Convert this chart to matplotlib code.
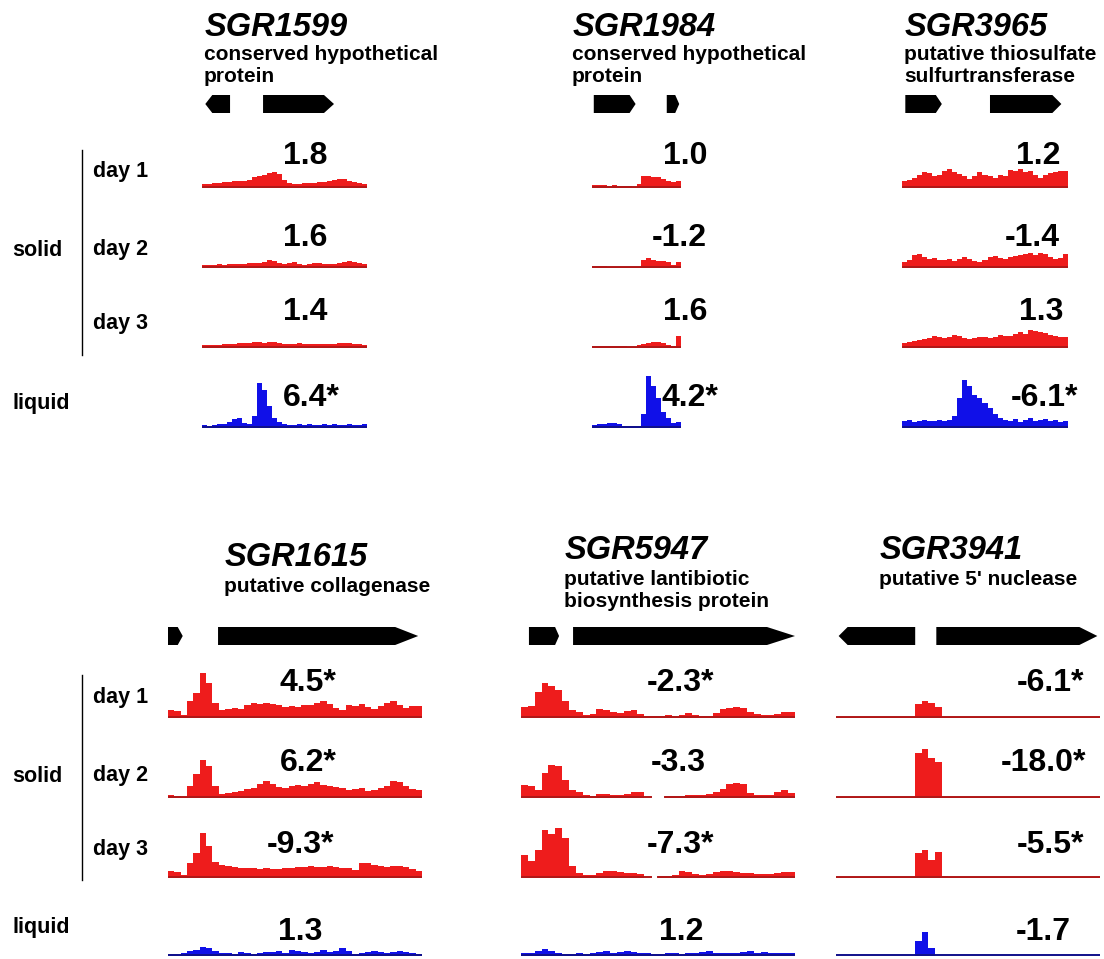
import numpy as np
import matplotlib.pyplot as plt
from matplotlib.patches import Polygon

W, H = 1104, 959

# gene names and annotations
genes = ["SGR1599", "SGR1984", "SGR3965", "SGR1615", "SGR5947", "SGR3941"]
descriptions = [
    ["conserved hypothetical", "protein"],
    ["conserved hypothetical", "protein"],
    ["putative thiosulfate", "sulfurtransferase"],
    ["putative collagenase"],
    ["putative lantibiotic", "biosynthesis protein"],
    ["putative 5' nuclease"],
]

# fold changes: day 1, day 2, day 3, liquid
fold_changes = [
    ["1.8", "1.6", "1.4", "6.4*"],
    ["1.0", "-1.2", "1.6", "4.2*"],
    ["1.2", "-1.4", "1.3", "-6.1*"],
    ["4.5*", "6.2*", "-9.3*", "1.3"],
    ["-2.3*", "-3.3", "-7.3*", "1.2"],
    ["-6.1*", "-18.0*", "-5.5*", "-1.7"],
]

# gene models: (start, end, strand) as fraction of the window
gene_models = [
    [(0.02, 0.17, -1), (0.37, 0.80, 1)],
    [(0.02, 0.49, 1), (0.84, 0.98, 1)],
    [(0.02, 0.24, 1), (0.53, 0.96, 1)],
    [(0.0, 0.058, 1), (0.197, 0.985, 1)],
    [(0.029, 0.139, 1), (0.19, 1.0, 1)],
    [(0.01, 0.30, -1), (0.38, 0.99, 1)],
]

# read coverage (track height units), day 1 / day 2 / day 3 / liquid
cov_1599 = [
    [4, 4, 5, 5, 6, 6, 7, 7, 7, 8, 11, 12, 13, 15, 16, 14, 8, 5, 4, 4, 5, 5, 5, 6, 6, 7, 8, 9, 9, 7, 6, 5, 4],
    [3, 3, 3, 4, 3, 4, 4, 4, 4, 5, 5, 5, 6, 8, 7, 5, 4, 5, 6, 4, 3, 4, 5, 5, 4, 4, 4, 5, 6, 7, 6, 5, 4],
    [3, 3, 3, 3, 4, 4, 4, 5, 5, 5, 6, 6, 5, 6, 6, 5, 4, 4, 4, 5, 4, 4, 4, 4, 4, 4, 4, 5, 5, 5, 4, 4, 3],
    [3, 2, 3, 4, 4, 6, 9, 10, 5, 4, 12, 45, 38, 22, 10, 6, 4, 3, 3, 4, 3, 4, 3, 3, 4, 3, 4, 3, 3, 4, 3, 3, 4],
]
cov_1984 = [
    [3, 3, 3, 2, 3, 2, 2, 2, 1, 4, 12, 12, 11, 11, 9, 7, 6, 7],
    [2, 2, 2, 1, 1, 1, 1, 1, 1, 1, 8, 10, 8, 7, 7, 6, 3, 6],
    [2, 2, 2, 2, 2, 2, 2, 1, 1, 3, 4, 5, 6, 6, 5, 3, 2, 12],
    [3, 4, 4, 5, 5, 4, 2, 2, 2, 2, 14, 52, 42, 30, 16, 10, 5, 6],
]
cov_3965 = [
    [7, 8, 10, 13, 16, 15, 12, 13, 17, 19, 16, 14, 12, 9, 12, 16, 13, 12, 10, 13, 12, 18, 17, 19, 16, 17, 13, 10, 13, 15, 16, 17, 17],
    [6, 8, 13, 14, 11, 9, 10, 8, 8, 9, 7, 9, 11, 9, 7, 6, 8, 11, 12, 10, 9, 11, 12, 13, 14, 15, 13, 15, 14, 11, 9, 10, 14],
    [5, 6, 7, 8, 9, 10, 12, 11, 10, 11, 13, 12, 10, 9, 10, 11, 11, 10, 11, 13, 12, 12, 14, 16, 14, 18, 17, 16, 15, 13, 12, 11, 11],
    [7, 8, 6, 7, 8, 7, 7, 8, 7, 8, 12, 30, 48, 42, 33, 30, 25, 20, 14, 10, 8, 7, 9, 6, 8, 10, 7, 8, 9, 7, 8, 6, 7],
]
cov_1615 = [
    [8, 7, 3, 17, 25, 45, 35, 15, 8, 9, 10, 9, 13, 15, 14, 15, 14, 13, 11, 12, 11, 13, 13, 15, 17, 14, 10, 8, 13, 12, 14, 11, 9, 12, 15, 17, 13, 10, 12, 12],
    [3, 2, 1, 12, 24, 38, 32, 12, 4, 5, 6, 7, 9, 10, 14, 17, 14, 11, 10, 12, 13, 12, 14, 16, 13, 12, 11, 10, 8, 9, 10, 7, 8, 10, 12, 17, 16, 12, 9, 8],
    [7, 6, 3, 15, 25, 45, 32, 16, 13, 12, 11, 10, 10, 10, 9, 10, 9, 9, 10, 10, 11, 11, 12, 11, 11, 12, 11, 10, 10, 8, 15, 15, 13, 12, 11, 12, 12, 11, 9, 7],
    [2, 2, 3, 5, 6, 9, 8, 5, 3, 3, 2, 4, 3, 2, 3, 4, 4, 5, 3, 6, 5, 4, 3, 4, 6, 4, 5, 8, 5, 2, 3, 4, 5, 4, 3, 4, 5, 4, 3, 2],
]
nan = np.nan
cov_5947 = [
    [11, 12, 26, 35, 32, 28, 17, 8, 6, 3, 4, 9, 8, 6, 5, 7, 8, 4, 2, 2, 2, 3, 2, 3, 5, 3, 2, 2, 5, 9, 10, 11, 10, 6, 4, 3, 3, 4, 6, 6],
    [13, 12, 8, 25, 33, 32, 18, 8, 6, 3, 2, 4, 4, 3, 3, 4, 6, 6, 3, nan, nan, 2, 2, 2, 3, 3, 3, 4, 6, 9, 14, 15, 14, 5, 3, 3, 3, 6, 8, 5],
    [23, 17, 28, 48, 44, 50, 40, 12, 5, 3, 3, 5, 7, 7, 6, 5, 5, 4, 3, nan, 2, 2, 3, 7, 6, 4, 3, 4, 6, 7, 7, 6, 5, 5, 4, 4, 4, 5, 6, 6],
    [3, 3, 5, 7, 5, 3, 2, 2, 3, 2, 3, 4, 5, 3, 4, 5, 4, 3, 3, 2, 2, 3, 3, 2, 3, 3, 4, 5, 3, 3, 3, 3, 4, 5, 3, 4, 3, 3, 3, 3],
]
cov_3941 = [
    [.5, .5, .5, .5, .5, .5, .5, .5, .5, .5, .5, 1, 14, 17, 15, 11, 1, .5, .5, .5, .5, .5, .5, .5, .5, .5, .5, .5, .5, .5, .5, .5, .5, .5, .5, .5, .5, .5, .5, .5],
    [.5, .5, .5, .5, .5, .5, .5, .5, .5, .5, .5, 1, 45, 49, 40, 36, 1, .5, .5, .5, .5, .5, .5, .5, .5, .5, .5, .5, .5, .5, .5, .5, .5, .5, .5, .5, .5, .5, .5, .5],
    [.5, .5, .5, .5, .5, .5, .5, .5, .5, .5, .5, 1, 25, 28, 18, 26, 2, .5, .5, .5, .5, .5, .5, .5, .5, .5, .5, .5, .5, .5, .5, .5, .5, .5, .5, .5, .5, .5, .5, .5],
    [.5, .5, .5, .5, .5, .5, .5, .5, .5, .5, .5, .5, 15, 24, 8, .5, .5, .5, .5, .5, .5, .5, .5, .5, .5, .5, .5, .5, .5, .5, .5, .5, .5, .5, .5, .5, .5, .5, .5, .5],
]
coverage = [cov_1599, cov_1984, cov_3965, cov_1615, cov_5947, cov_3941]

row_labels = ["day 1", "day 2", "day 3"]

# layout in pixels (x0, x1 of track window), title x, label centres
track_x = [(202, 367), (592, 681), (902, 1068), (168, 422), (521, 795), (836, 1100)]
title_x = [205, 573, 905, 225, 565, 880]
label_x = [[305, 305, 305, 311], [685, 679, 685, 690], [1038, 1032, 1041, 1045],
           [308, 308, 301, 300], [680, 678, 680, 681], [1050, 1044, 1050, 1043]]
panels = [
    dict(arrow_y=104, base=[187, 267, 347, 427],
         lab_y=[156, 238, 312, 398], row_y=[172, 249, 324, 403], solid_y=250, vline=(150, 355)),
    dict(arrow_y=636, base=[717, 797, 877, 955],
         lab_y=[683, 763, 845, 932], row_y=[697, 775, 850, 927], solid_y=776, vline=(675, 880)),
]
title_pos = [(36, [60, 82]), (36, [60, 82]), (36, [60, 82]),
             (566, [592]), (559, [585, 607]), (559, [585])]
head_px = [[7, 10], [6, 4], [6, 9], [5, 23], [4, 28], [9, 18]]
track_h = 55
RED, RED_D = "#ee1c1c", "#b01818"
BLUE, BLUE_D = "#1010e8", "#10108a"
FONT = "Liberation Sans"

fig = plt.figure(figsize=(W / 100, H / 100), dpi=100)


def fx(x):
    return x / W


def fy(y):
    return 1 - y / H


def px_axes(x0, y0, x1, y1):
    ax = fig.add_axes([fx(x0), fy(y1), (x1 - x0) / W, (y1 - y0) / H])
    ax.set_axis_off()
    return ax


def draw_arrow(ax, start, end, strand, head):
    if strand > 0:
        hb = max(start, end - head)
        pts = [(start, 0), (hb, 0), (end, 0.5), (hb, 1), (start, 1)]
    else:
        hb = min(end, start + head)
        pts = [(end, 0), (hb, 0), (start, 0.5), (hb, 1), (end, 1)]
    ax.add_patch(Polygon(pts, closed=True, color="black", lw=0))


for g, name in enumerate(genes):
    p = panels[0] if g < 3 else panels[1]
    x0, x1 = track_x[g]
    ty, dys = title_pos[g]
    fig.text(fx(title_x[g]), fy(ty), name, fontsize=23.5, fontweight="bold",
             style="italic", family=FONT, va="baseline", ha="left")
    for line, dy in zip(descriptions[g], dys):
        fig.text(fx(title_x[g] - 1), fy(dy), line, fontsize=15, fontweight="bold",
                 family=FONT, va="baseline", ha="left")

    # gene arrows
    ay = p["arrow_y"]
    gax = px_axes(x0, ay - 9, x1, ay + 9)
    gax.set_xlim(0, 1)
    gax.set_ylim(0, 1)
    for (s, e, strand), hp in zip(gene_models[g], head_px[g]):
        draw_arrow(gax, s, e, strand, hp / (x1 - x0))

    # coverage tracks
    for r, vals in enumerate(coverage[g]):
        base = p["base"][r]
        tax = px_axes(x0, base - track_h, x1, base + 1)
        vals = np.array(vals, dtype=float)
        edges = np.linspace(0, 1, len(vals) + 1)
        yv = np.append(vals, vals[-1])
        col, dcol = (RED, RED_D) if r < 3 else (BLUE, BLUE_D)
        tax.fill_between(edges, 0, yv, step="post", color=col, lw=0)
        line = np.where(np.isnan(yv), np.nan, 0.6)
        tax.step(edges, line, where="post", color=dcol, lw=1.4)
        tax.set_xlim(0, 1)
        tax.set_ylim(0, track_h + 1)
        fig.text(fx(label_x[g][r]), fy(p["lab_y"][r]), fold_changes[g][r],
                 fontsize=23, fontweight="bold", family=FONT, ha="center", va="center")

# row labels
for p in panels:
    for lab, y in zip(row_labels, p["row_y"]):
        fig.text(fx(93), fy(y), lab, fontsize=15.5, fontweight="bold",
                 family=FONT, ha="left", va="center")
    fig.text(fx(12), fy(p["solid_y"]), "solid", fontsize=15.5, fontweight="bold",
             family=FONT, ha="left", va="center")
    fig.text(fx(12), fy(p["row_y"][3]), "liquid", fontsize=15.5, fontweight="bold",
             family=FONT, ha="left", va="center")
    fig.add_artist(plt.Line2D([fx(82), fx(82)], [fy(p["vline"][0]), fy(p["vline"][1])],
                              color="black", lw=1))

fig.savefig("out.png", dpi=100)
